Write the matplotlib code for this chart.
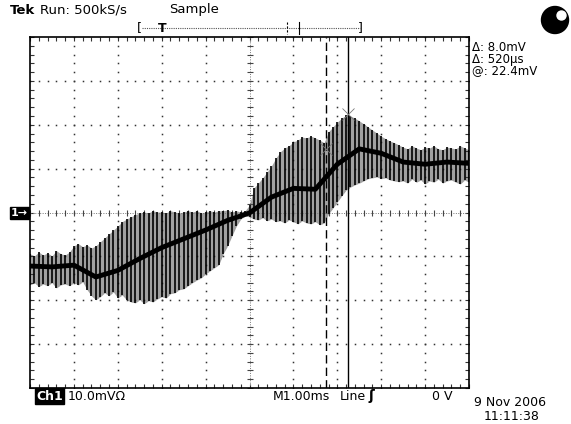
import numpy as np
import matplotlib.pyplot as plt
from matplotlib.ticker import MultipleLocator
from matplotlib.patches import Circle
from matplotlib.lines import Line2D

# scope trace, 1 ms/div and 10 mV/div, sampled every 0.1 ms
t_ms = np.arange(101) / 10
top_mv = [-9.4, -9.9, -9.0, -9.7, -9.2, -9.9, -8.7, -9.4, -9.7, -9.0,
          -7.6, -7.1, -7.8, -7.4, -8.1,
          -7.6, -6.7, -5.8,
          -4.9, -4.0, -3.1, -2.1, -1.5,
          -1.0, -0.5, -0.1, 0.1, -0.1, 0.4, 0.1,
          0.1, -0.1, 0.4, 0.1, -0.1, 0.1, 0.4,
          0.1, 0.4, -0.1, 0.1, 0.4, 0.1, 0.4,
          0.4, 0.6, 0.1, 0.4, 0.1, 0.4,
          1.7,
          5.6, 6.7, 7.9, 9.2, 10.6, 12.4,
          13.8, 14.7, 15.2, 16.1, 16.5, 17.2, 17.0,
          17.4, 17.0, 16.5, 15.9,
          18.4, 19.5, 20.6, 21.5, 22.2,
          22.0, 21.5, 20.9, 20.2, 19.5,
          18.8, 18.1, 17.4, 16.8, 16.3, 15.9, 15.4,
          14.9, 14.5, 15.2, 14.7, 14.3, 14.9, 14.7, 15.2, 14.5, 14.3,
          14.9, 14.7, 14.5, 15.2, 14.7, 14.3]
bot_mv = [-16.5, -16.0, -16.9, -16.3, -16.7, -16.0, -17.2, -16.5, -16.3, -16.7,
          -16.0, -16.5, -15.8, -17.6, -19.0,
          -19.9, -19.2, -18.3,
          -19.0, -18.1, -19.5, -18.8, -19.9,
          -20.4, -20.6, -19.9, -20.8, -20.1, -20.4, -19.7,
          -19.2, -19.5, -18.5, -18.3, -17.6, -17.4, -16.7,
          -16.0, -15.4, -14.9, -14.0, -13.3, -12.6, -11.9,
          -9.4, -7.6, -5.3, -3.1, -1.5, -0.8,
          -1.0,
          -1.5, -1.7, -1.2, -1.9, -1.5, -2.1,
          -1.9, -2.4, -1.7, -2.1, -2.6, -1.9, -2.4,
          -2.6, -2.1, -2.8, -2.4,
          -0.3, 1.0, 2.4, 3.8, 5.1,
          5.8, 6.3, 6.7, 7.2, 7.7,
          7.9, 8.1, 7.7, 7.9, 7.4, 7.2, 7.0,
          7.2, 6.7, 7.6, 6.9, 7.4, 6.5, 7.2, 6.9, 7.6, 6.7,
          7.2, 7.4, 6.9, 6.5, 7.4, 6.9]

# dense middle of the trace, every 0.5 ms
core_t = np.arange(21) / 2
core_mv = [-12.2, -12.4, -12.0, -14.7, -13.2, -10.5, -8.0, -6.0, -4.0, -1.8, -0.1,
           3.5, 5.5, 5.3, 11.0, 14.5, 13.5, 11.5, 11.0, 11.5, 11.2]

cursor_t = [6.735, 7.255]
cursor_mv = [14.4, 22.4]
readout = ['Δ: 8.0mV', 'Δ: 520µs', '@: 22.4mV']

fig = plt.figure(figsize=(5.71, 4.24), dpi=100)
ax = fig.add_axes([30 / 571, 36 / 424, 439 / 571, 351 / 424])
ax.set_xlim(0, 10)
ax.set_ylim(-40, 40)

# graticule
dots_y = np.arange(-40, 41, 2)
dots_x = np.arange(0, 10.01, 0.2)
for k in [1, 2, 3, 4, 6, 7, 8, 9]:
    ax.plot([k] * len(dots_y), dots_y, ls='none', marker='s', ms=1.1, color='#333', mew=0)
for k in [-30, -20, -10, 10, 20, 30]:
    ax.plot(dots_x, [k] * len(dots_x), ls='none', marker='s', ms=1.1, color='#333', mew=0)
ax.axvline(5, color='#777', lw=0.7, ls=(0, (1, 1.5)))
ax.axhline(0, color='#777', lw=0.7, ls=(0, (1, 1.5)))
ax.plot([5] * len(dots_y), dots_y, ls='none', marker='_', ms=4, mew=0.8, color='#444')
ax.plot(dots_x, [0] * len(dots_x), ls='none', marker='|', ms=4, mew=0.8, color='#444')

for a in (ax.xaxis, ax.yaxis):
    a.set_major_locator(MultipleLocator(10 if a is ax.yaxis else 1))
    a.set_minor_locator(MultipleLocator(2 if a is ax.yaxis else 0.2))
ax.tick_params(which='both', direction='in', length=3, width=0.8, color='#333',
               top=True, right=True, labelbottom=False, labelleft=False)
for s in ax.spines.values():
    s.set_linewidth(1.2)

# trace
ax.fill_between(t_ms, bot_mv, top_mv, color='#a0a0a0', lw=0)
ax.vlines(t_ms, bot_mv, top_mv, color='black', lw=1.2)
ax.plot(core_t, core_mv, color='black', lw=3.5, solid_capstyle='butt')

# cursors
ax.axvline(cursor_t[0], color='black', lw=1, ls=(0, (6, 3)))
ax.axvline(cursor_t[1], color='black', lw=1)
ax.plot(cursor_t, cursor_mv, ls='none', marker='x', ms=8, mew=0.6, color='#777')

# screen text
def px(x, y):
    return x / 571, 1 - y / 424

fs = 9
fig.text(*px(10, 10), 'Tek', fontsize=9.5, fontweight='bold', va='center')
fig.text(*px(40, 10), 'Run: 500kS/s', fontsize=9.5, va='center')
fig.text(*px(169, 9), 'Sample', fontsize=9.5, va='center')

fig.add_artist(Line2D([142 / 571, 360 / 571], [1 - 28 / 424] * 2, color='#555', lw=0.8, ls=(0, (1, 1))))
fig.text(*px(137, 28), '[', fontsize=9, va='center')
fig.text(*px(358, 28), ']', fontsize=9, va='center')
fig.text(*px(162, 29), 'T', fontsize=9, fontweight='bold', va='center', ha='center')
fig.add_artist(Line2D([287 / 571] * 2, [1 - 22 / 424, 1 - 34 / 424], color='black', lw=0.8, ls=(0, (2, 1.5))))
fig.add_artist(Line2D([299 / 571] * 2, [1 - 22 / 424, 1 - 34 / 424], color='black', lw=0.8))

fig.text(*px(472, 41), '\n'.join(readout), fontsize=8.5, va='top', linespacing=0.85)

fig.add_artist(Circle((5.55, 4.04), 0.135, transform=fig.dpi_scale_trans, color='black'))
fig.add_artist(Circle((5.615, 4.085), 0.045, transform=fig.dpi_scale_trans, color='white'))

fig.text(*px(11, 213), '1→', fontsize=8, color='white', fontweight='bold', va='center',
         bbox=dict(boxstyle='square,pad=0.1', fc='black', ec='black'))
fig.text(*px(36, 396), 'Ch1', fontsize=fs, color='white', fontweight='bold', va='center',
         bbox=dict(boxstyle='square,pad=0.1', fc='black', ec='black'))
fig.text(*px(68, 396), '10.0mVΩ', fontsize=fs, va='center')
fig.text(*px(273, 396), 'M1.00ms', fontsize=fs, va='center')
fig.text(*px(340, 396), 'Line', fontsize=fs, va='center')
fig.text(*px(368, 396), 'ʃ', fontsize=fs + 1, fontweight='bold', va='center')
fig.text(*px(452, 396), '0 V', fontsize=fs, va='center', ha='right')
fig.text(*px(474, 403), '9 Nov 2006', fontsize=fs, va='center')
fig.text(*px(484, 417), '11:11:38', fontsize=fs, va='center')

fig.savefig('out.png', dpi=100)
